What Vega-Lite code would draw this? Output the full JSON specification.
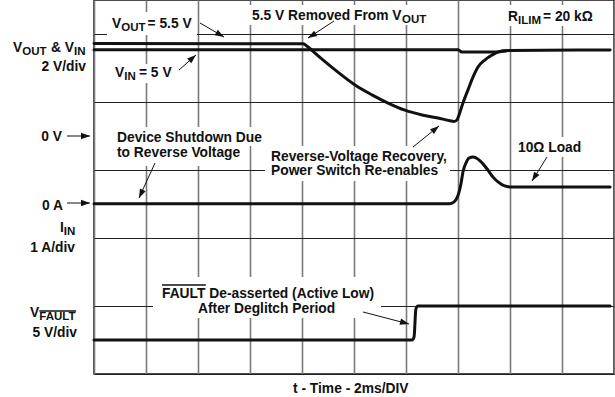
{
  "$schema": "https://vega.github.io/schema/vega-lite/v6.json",
  "width": 520,
  "height": 374,
  "autosize": "none",
  "padding": {"left": 94, "top": 0, "right": 1, "bottom": 23},
  "background": "white",
  "view": {"stroke": "#111", "strokeWidth": 1.5},
  "config": {"text": {"font": "Liberation Sans", "fontWeight": "bold", "fill": "#111"}},
  "datasets": {
    "traces": [
      {"signal": "VOUT", "t": 0, "v": 9.72}, {"signal": "VOUT", "t": 8.04, "v": 9.71}, {"signal": "VOUT", "t": 8.23, "v": 9.62}, {"signal": "VOUT", "t": 8.5, "v": 9.44}, {"signal": "VOUT", "t": 8.77, "v": 9.26}, {"signal": "VOUT", "t": 9.38, "v": 8.88}, {"signal": "VOUT", "t": 10.04, "v": 8.5}, {"signal": "VOUT", "t": 10.69, "v": 8.21}, {"signal": "VOUT", "t": 11.31, "v": 7.97}, {"signal": "VOUT", "t": 11.96, "v": 7.76}, {"signal": "VOUT", "t": 12.62, "v": 7.62}, {"signal": "VOUT", "t": 13.23, "v": 7.53}, {"signal": "VOUT", "t": 13.69, "v": 7.45}, {"signal": "VOUT", "t": 13.85, "v": 7.43}, {"signal": "VOUT", "t": 13.96, "v": 7.47}, {"signal": "VOUT", "t": 14.04, "v": 7.62}, {"signal": "VOUT", "t": 14.19, "v": 7.97}, {"signal": "VOUT", "t": 14.38, "v": 8.35}, {"signal": "VOUT", "t": 14.58, "v": 8.74}, {"signal": "VOUT", "t": 14.77, "v": 9.03}, {"signal": "VOUT", "t": 15.04, "v": 9.24}, {"signal": "VOUT", "t": 15.31, "v": 9.38}, {"signal": "VOUT", "t": 15.54, "v": 9.47}, {"signal": "VOUT", "t": 15.85, "v": 9.5},
      {"signal": "VIN", "t": 0, "v": 9.54}, {"signal": "VIN", "t": 14.0, "v": 9.54}, {"signal": "VIN", "t": 14.15, "v": 9.47}, {"signal": "VIN", "t": 15.5, "v": 9.47}, {"signal": "VIN", "t": 15.73, "v": 9.51}, {"signal": "VIN", "t": 19.85, "v": 9.53},
      {"signal": "IIN", "t": 0, "v": 5.01}, {"signal": "IIN", "t": 13.69, "v": 5.01}, {"signal": "IIN", "t": 13.85, "v": 5.06}, {"signal": "IIN", "t": 13.96, "v": 5.18}, {"signal": "IIN", "t": 14.04, "v": 5.35}, {"signal": "IIN", "t": 14.12, "v": 5.62}, {"signal": "IIN", "t": 14.19, "v": 5.94}, {"signal": "IIN", "t": 14.31, "v": 6.21}, {"signal": "IIN", "t": 14.42, "v": 6.35}, {"signal": "IIN", "t": 14.58, "v": 6.38}, {"signal": "IIN", "t": 14.77, "v": 6.32}, {"signal": "IIN", "t": 14.96, "v": 6.18}, {"signal": "IIN", "t": 15.15, "v": 6.0}, {"signal": "IIN", "t": 15.35, "v": 5.79}, {"signal": "IIN", "t": 15.54, "v": 5.65}, {"signal": "IIN", "t": 15.77, "v": 5.54}, {"signal": "IIN", "t": 16.08, "v": 5.5}, {"signal": "IIN", "t": 19.85, "v": 5.5},
      {"signal": "VFAULT", "t": 0, "v": 1.0}, {"signal": "VFAULT", "t": 12.23, "v": 1.0}, {"signal": "VFAULT", "t": 12.31, "v": 1.09}, {"signal": "VFAULT", "t": 12.38, "v": 1.91}, {"signal": "VFAULT", "t": 12.46, "v": 2.0}, {"signal": "VFAULT", "t": 19.85, "v": 2.0}
    ],
    "boxes": [
      {"t1": 0.5, "t2": 3.96, "y1": 10.647, "y2": 9.971},
      {"t1": 0.538, "t2": 3.231, "y1": 9.118, "y2": 8.559},
      {"t1": 5.923, "t2": 13.0, "y1": 10.853, "y2": 10.265},
      {"t1": 15.731, "t2": 19.462, "y1": 10.853, "y2": 10.235},
      {"t1": 0.654, "t2": 6.692, "y1": 7.265, "y2": 6.706},
      {"t1": 0.654, "t2": 5.769, "y1": 6.706, "y2": 6.118},
      {"t1": 6.577, "t2": 13.692, "y1": 6.706, "y2": 5.676},
      {"t1": 16.115, "t2": 19.0, "y1": 6.971, "y2": 6.382},
      {"t1": 2.269, "t2": 11.038, "y1": 2.853, "y2": 1.647}
    ],
    "arrows": [
      {"t1": 4.077, "y1": 10.324, "t2": 5.0, "y2": 9.912, "heading": 30},
      {"t1": 3.269, "y1": 8.941, "t2": 3.923, "y2": 9.382, "heading": 319},
      {"t1": 9.231, "y1": 10.382, "t2": 8.231, "y2": 9.882, "heading": 149},
      {"t1": -1.038, "y1": 7.0, "t2": -0.154, "y2": 7.0, "heading": 0},
      {"t1": -1.038, "y1": 5.029, "t2": -0.154, "y2": 5.029, "heading": 0},
      {"t1": 2.346, "y1": 6.206, "t2": 1.731, "y2": 5.176, "heading": 115},
      {"t1": 12.269, "y1": 6.676, "t2": 13.269, "y2": 7.294, "heading": 321},
      {"t1": 17.423, "y1": 6.382, "t2": 16.846, "y2": 5.676, "heading": 122},
      {"t1": 10.346, "y1": 1.824, "t2": 12.115, "y2": 1.471, "heading": 15}
    ],
    "notes": [
      {"t": -3.115, "y": 9.471, "text": "V"},
      {"t": -1.654, "y": 9.471, "text": "& V"},
      {"t": -1.308, "y": 4.176, "text": "I"},
      {"t": -2.462, "y": 1.676, "text": "V"},
      {"t": 0.692, "y": 10.176, "text": "V"},
      {"t": 2.06, "y": 10.176, "text": "= 5.5 V"},
      {"t": 0.808, "y": 8.735, "text": "V"},
      {"t": 1.73, "y": 8.735, "text": "= 5 V"},
      {"t": 6.077, "y": 10.426, "text": "5.5 V Removed From V"},
      {"t": 15.923, "y": 10.382, "text": "R"},
      {"t": 17.269, "y": 10.382, "text": "= 20 kΩ"},
      {"t": 0.885, "y": 6.824, "text": "Device Shutdown Due"},
      {"t": 0.885, "y": 6.382, "text": "to Reverse Voltage"},
      {"t": 6.808, "y": 6.265, "text": "Reverse-Voltage Recovery,"},
      {"t": 6.808, "y": 5.853, "text": "Power Switch Re-enables"},
      {"t": 16.308, "y": 6.529, "text": "10Ω Load"},
      {"t": 2.615, "y": 2.235, "text": "FAULT De-asserted (Active Low)"},
      {"t": 4.0, "y": 1.794, "text": "After Deglitch Period"},
      {"t": 7.654, "y": -0.559, "text": "t - Time - 2ms/DIV"}
    ],
    "sidenotes": [
      {"t": -0.308, "y": 8.912, "text": "2 V/div"},
      {"t": -1.231, "y": 6.853, "text": "0 V"},
      {"t": -1.192, "y": 4.824, "text": "0 A"},
      {"t": -0.731, "y": 3.588, "text": "1 A/div"},
      {"t": -0.654, "y": 1.088, "text": "5 V/div"}
    ],
    "subs": [
      {"t": -2.758, "y": 9.471, "text": "OUT"},
      {"t": -0.769, "y": 9.471, "text": "IN"},
      {"t": -1.16, "y": 4.176, "text": "IN"},
      {"t": -2.104, "y": 1.676, "text": "FAULT"},
      {"t": 1.05, "y": 10.176, "text": "OUT"},
      {"t": 1.165, "y": 8.735, "text": "IN"},
      {"t": 11.85, "y": 10.426, "text": "OUT"},
      {"t": 16.31, "y": 10.382, "text": "ILIM"}
    ],
    "bars": [
      {"t1": -2.104, "t2": -0.69, "y": 1.853},
      {"t1": 2.615, "t2": 4.3, "y": 2.618}
    ]
  },
  "encoding": {
    "x": {"type": "quantitative", "scale": {"domain": [0, 20], "nice": false, "zero": false}},
    "y": {"type": "quantitative", "scale": {"domain": [0, 11], "nice": false, "zero": false}}
  },
  "layer": [
    {
      "data": {"name": "boxes"},
      "mark": {"type": "rect", "fill": "white", "stroke": null},
      "encoding": {
        "x": {"field": "t1", "type": "quantitative", "axis": {"values": [0, 2, 4, 6, 8, 10, 12, 14, 16, 18, 20], "grid": true, "gridColor": "#7a7a7a", "gridWidth": 1.6, "gridOpacity": 1, "labels": false, "ticks": false, "domain": false, "title": null}},
        "x2": {"field": "t2"},
        "y": {"field": "y1", "type": "quantitative", "axis": {"values": [0, 1, 2, 3, 4, 5, 6, 7, 8, 9, 10, 11], "grid": true, "gridColor": "#222", "gridWidth": 1, "gridOpacity": 1, "labels": false, "ticks": false, "domain": false, "title": null}},
        "y2": {"field": "y2"}
      }
    },
    {
      "data": {"name": "traces"},
      "mark": {"type": "line", "color": "#111", "strokeWidth": 3, "interpolate": "monotone", "strokeJoin": "round", "strokeCap": "round"},
      "encoding": {
        "x": {"field": "t", "type": "quantitative"},
        "y": {"field": "v", "type": "quantitative"},
        "detail": {"field": "signal"}
      }
    },
    {
      "data": {"name": "arrows"},
      "mark": {"type": "rule", "color": "#111", "strokeWidth": 1},
      "encoding": {
        "x": {"field": "t1", "type": "quantitative"},
        "y": {"field": "y1", "type": "quantitative"},
        "x2": {"field": "t2"},
        "y2": {"field": "y2"}
      }
    },
    {
      "data": {"name": "arrows"},
      "mark": {"type": "point", "shape": "M0,0L-2,-0.7L-2,0.7Z", "filled": true, "color": "#111", "size": 81, "opacity": 1},
      "encoding": {
        "x": {"field": "t2", "type": "quantitative"},
        "y": {"field": "y2", "type": "quantitative"},
        "angle": {"field": "heading", "type": "quantitative", "scale": null}
      }
    },
    {
      "data": {"name": "bars"},
      "mark": {"type": "rule", "color": "#111", "strokeWidth": 1.3},
      "encoding": {
        "x": {"field": "t1", "type": "quantitative"},
        "x2": {"field": "t2"},
        "y": {"field": "y", "type": "quantitative"}
      }
    },
    {
      "data": {"name": "notes"},
      "mark": {"type": "text", "align": "left", "baseline": "alphabetic", "fontSize": 13.8},
      "encoding": {
        "x": {"field": "t", "type": "quantitative"},
        "y": {"field": "y", "type": "quantitative"},
        "text": {"field": "text"}
      }
    },
    {
      "data": {"name": "sidenotes"},
      "mark": {"type": "text", "align": "right", "baseline": "alphabetic", "fontSize": 13.8},
      "encoding": {
        "x": {"field": "t", "type": "quantitative"},
        "y": {"field": "y", "type": "quantitative"},
        "text": {"field": "text"}
      }
    },
    {
      "data": {"name": "subs"},
      "mark": {"type": "text", "align": "left", "baseline": "alphabetic", "fontSize": 11.5, "dy": 3},
      "encoding": {
        "x": {"field": "t", "type": "quantitative"},
        "y": {"field": "y", "type": "quantitative"},
        "text": {"field": "text"}
      }
    }
  ]
}
